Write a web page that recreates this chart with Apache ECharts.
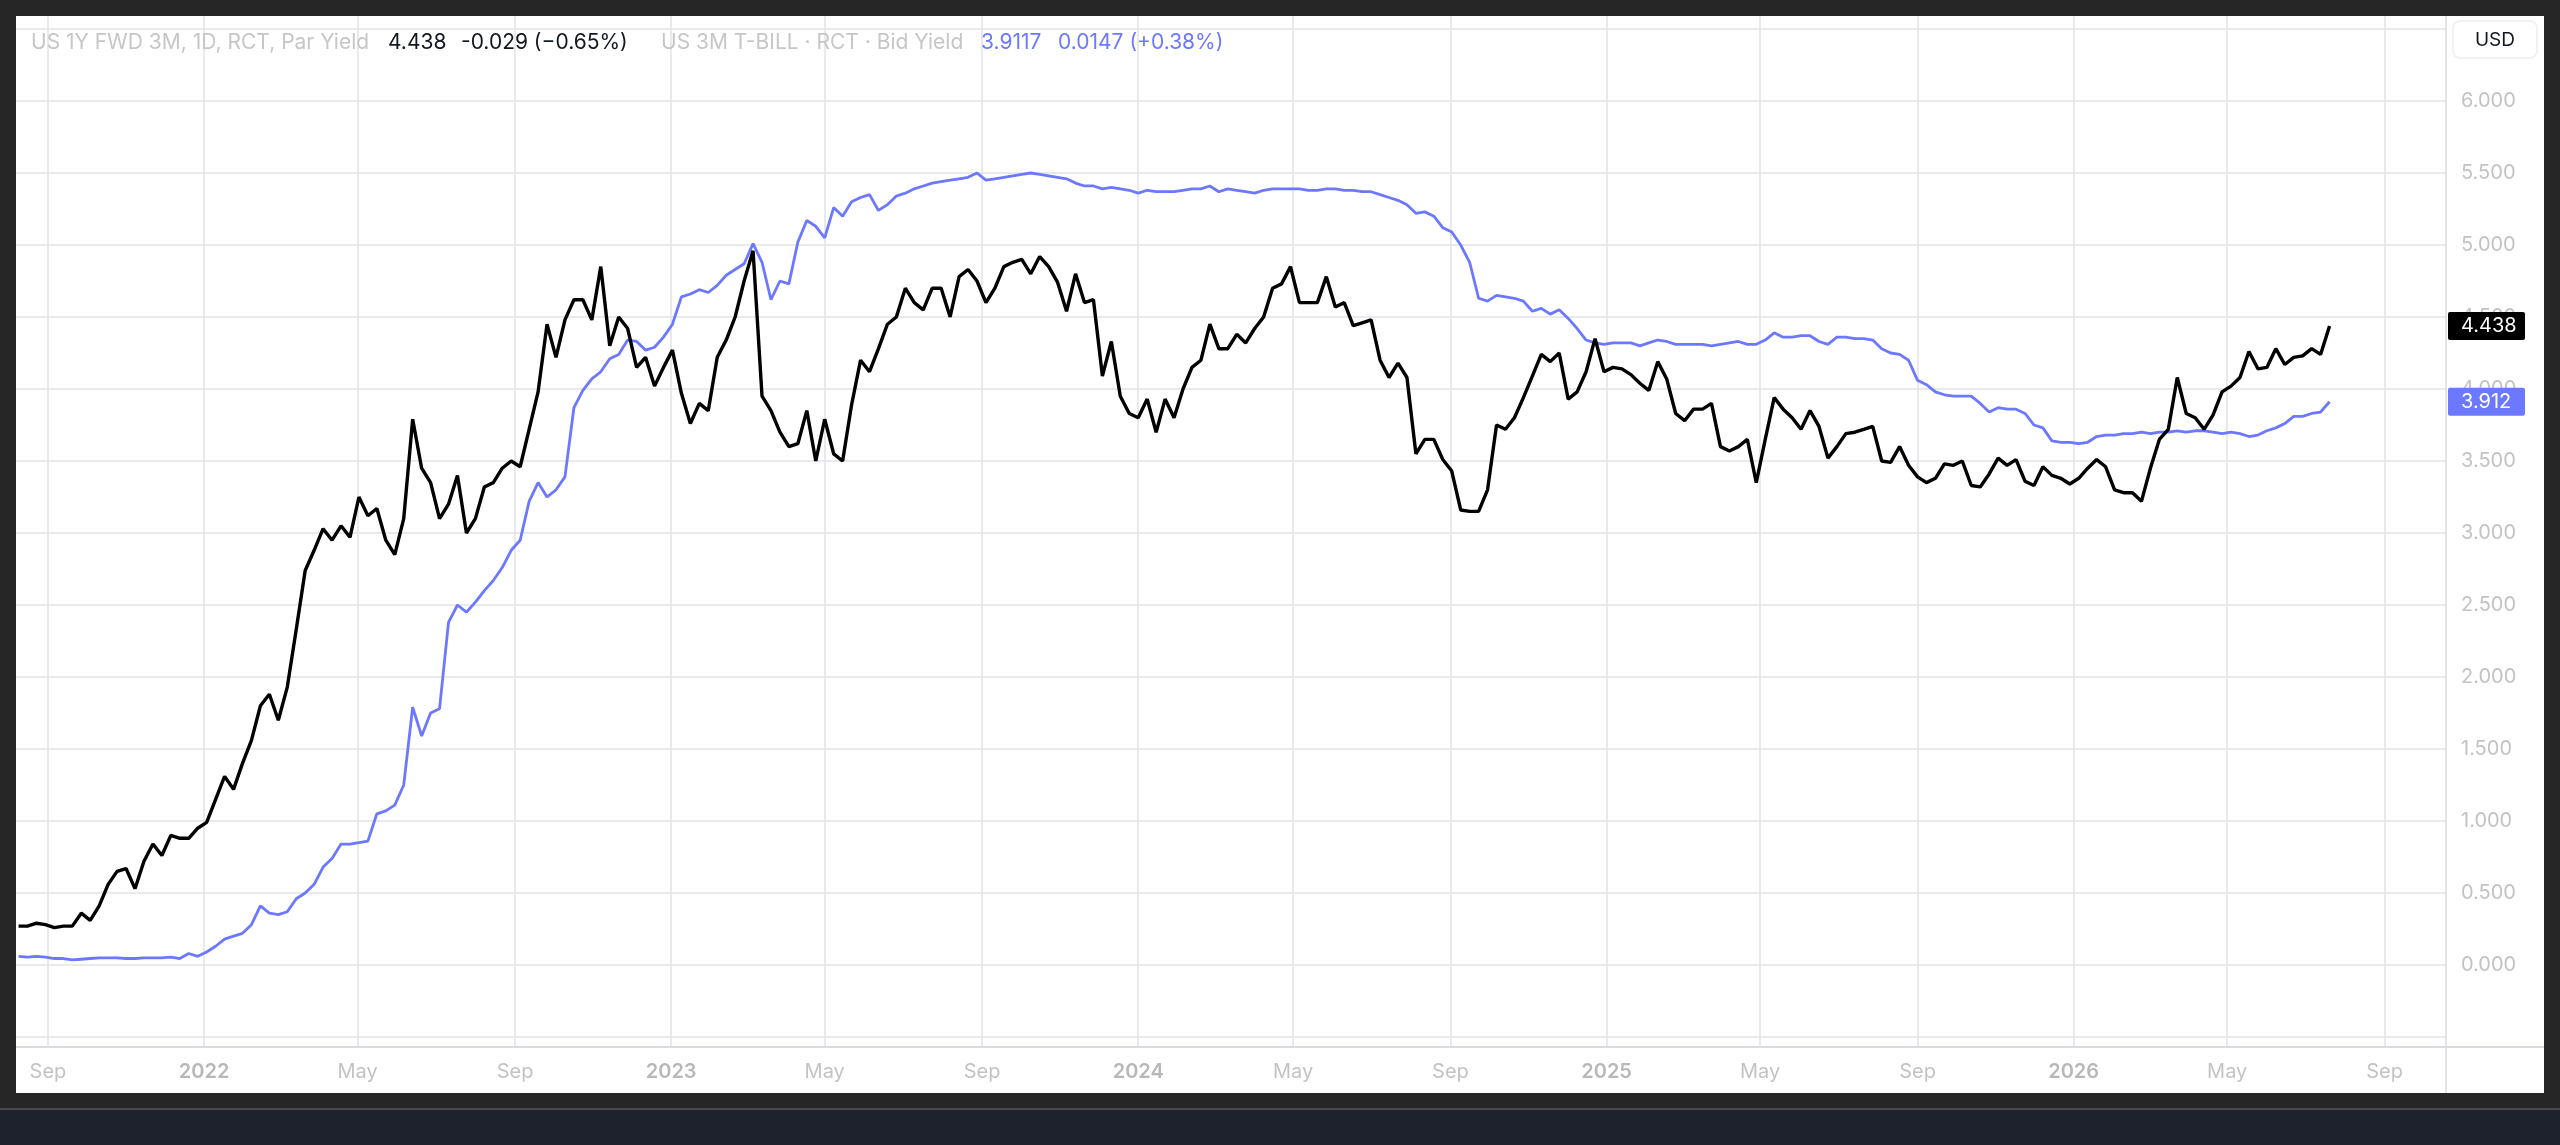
<!DOCTYPE html>
<html>
<head>
<meta charset="utf-8">
<script src="https://cdn.jsdelivr.net/npm/echarts@6/dist/echarts.min.js"></script>
<style>
html,body{margin:0;padding:0;background:#262626;overflow:hidden;}
#panel{position:absolute;left:16px;top:16px;width:2528px;height:1077px;background:#ffffff;}
#bandline{position:absolute;left:0;top:1108px;width:2560px;height:2px;background:#4a4a4a;}
#band{position:absolute;left:0;top:1110px;width:2560px;height:35px;background:#1e222d;}
#c{position:absolute;left:0;top:0;width:2560px;height:1145px;}
</style>
</head>
<body>
<div id="panel"></div>
<div id="bandline"></div>
<div id="band"></div>
<div id="c"></div>
<script>
// ---- data (weekly samples) ----
const startDate = '2021-08-09';
const stepDays = 7;

const fwdYield = [
 0.27,0.27,0.29,0.28,0.26,0.27,0.27,0.36,0.31,0.41,
 0.56,0.65,0.67,0.53,0.72,0.84,0.76,0.90,0.88,0.88,
 0.95,0.99,1.15,1.31,1.22,1.40,1.56,1.80,1.88,1.70,
 1.93,2.33,2.74,2.88,3.03,2.95,3.05,2.97,3.25,3.12,
 3.17,2.95,2.85,3.10,3.79,3.45,3.35,3.10,3.20,3.40,
 3.00,3.10,3.32,3.35,3.45,3.50,3.46,3.72,3.98,4.45,
 4.22,4.48,4.62,4.62,4.48,4.85,4.30,4.50,4.42,4.15,
 4.22,4.02,4.15,4.27,3.97,3.76,3.90,3.85,4.22,4.34,
 4.50,4.75,4.96,3.95,3.85,3.70,3.60,3.62,3.85,3.50,
 3.79,3.55,3.50,3.89,4.20,4.12,4.28,4.45,4.50,4.70,
 4.60,4.55,4.70,4.70,4.50,4.78,4.83,4.75,4.60,4.70,
 4.85,4.88,4.90,4.80,4.92,4.85,4.74,4.54,4.80,4.60,
 4.62,4.09,4.33,3.95,3.83,3.80,3.93,3.70,3.93,3.80,
 4.00,4.15,4.20,4.45,4.28,4.28,4.38,4.32,4.42,4.50,
 4.70,4.73,4.85,4.60,4.60,4.60,4.78,4.57,4.60,4.44,
 4.46,4.48,4.20,4.08,4.18,4.08,3.55,3.65,3.65,3.51,
 3.43,3.16,3.15,3.15,3.30,3.75,3.72,3.80,3.94,4.09,
 4.24,4.19,4.25,3.93,3.98,4.12,4.35,4.12,4.15,4.14,
 4.10,4.04,3.99,4.19,4.07,3.83,3.78,3.86,3.86,3.90,
 3.60,3.57,3.60,3.65,3.35,3.65,3.94,3.86,3.80,3.72,
 3.85,3.74,3.52,3.60,3.69,3.70,3.72,3.74,3.50,3.49,
 3.60,3.47,3.39,3.35,3.38,3.48,3.47,3.50,3.33,3.32,
 3.41,3.52,3.47,3.51,3.36,3.33,3.46,3.40,3.38,3.34,
 3.38,3.45,3.51,3.46,3.30,3.28,3.28,3.22,3.45,3.65,
 3.72,4.08,3.83,3.80,3.72,3.82,3.98,4.02,4.08,4.26,
 4.14,4.15,4.28,4.17,4.22,4.23,4.28,4.24,4.438
];

const billYield = [
 0.06,0.055,0.06,0.055,0.045,0.045,0.035,0.04,0.045,0.05,
 0.05,0.05,0.045,0.045,0.05,0.05,0.05,0.055,0.045,0.08,
 0.06,0.09,0.13,0.18,0.20,0.22,0.28,0.41,0.36,0.35,
 0.37,0.46,0.50,0.56,0.68,0.74,0.84,0.84,0.85,0.86,
 1.05,1.07,1.11,1.25,1.79,1.59,1.75,1.78,2.38,2.50,
 2.45,2.52,2.60,2.67,2.76,2.88,2.95,3.22,3.35,3.25,
 3.30,3.39,3.87,3.99,4.07,4.12,4.21,4.24,4.34,4.33,
 4.27,4.29,4.36,4.45,4.64,4.66,4.69,4.67,4.72,4.79,
 4.83,4.87,5.01,4.88,4.62,4.75,4.73,5.02,5.17,5.13,
 5.05,5.26,5.20,5.30,5.33,5.35,5.24,5.28,5.34,5.36,
 5.39,5.41,5.43,5.44,5.45,5.46,5.47,5.50,5.45,5.46,
 5.47,5.48,5.49,5.50,5.49,5.48,5.47,5.46,5.43,5.41,
 5.41,5.39,5.40,5.39,5.38,5.36,5.38,5.37,5.37,5.37,
 5.38,5.39,5.39,5.41,5.37,5.39,5.38,5.37,5.36,5.38,
 5.39,5.39,5.39,5.39,5.38,5.38,5.39,5.39,5.38,5.38,
 5.37,5.37,5.35,5.33,5.31,5.28,5.22,5.23,5.20,5.12,
 5.09,5.00,4.88,4.63,4.61,4.65,4.64,4.63,4.61,4.54,
 4.56,4.52,4.55,4.49,4.42,4.34,4.32,4.31,4.32,4.32,
 4.32,4.30,4.32,4.34,4.33,4.31,4.31,4.31,4.31,4.30,
 4.31,4.32,4.33,4.31,4.31,4.34,4.39,4.36,4.36,4.37,
 4.37,4.33,4.31,4.36,4.36,4.35,4.35,4.34,4.28,4.25,
 4.24,4.20,4.06,4.03,3.98,3.96,3.95,3.95,3.95,3.90,
 3.84,3.87,3.86,3.86,3.83,3.75,3.73,3.64,3.63,3.63,
 3.62,3.63,3.67,3.68,3.68,3.69,3.69,3.70,3.69,3.70,
 3.70,3.71,3.70,3.71,3.71,3.70,3.69,3.70,3.69,3.67,
 3.68,3.71,3.73,3.76,3.81,3.81,3.83,3.84,3.9117
];

const xTicks = ['2021-09-01','2022-01-01','2022-05-01','2022-09-01','2023-01-01','2023-05-01',
  '2023-09-01','2024-01-01','2024-05-01','2024-09-01','2025-01-01','2025-05-01',
  '2025-09-01','2026-01-01','2026-05-01','2026-09-01'];
const xMin = '2021-08-07';
const xMax = '2026-10-19';
const yMin = -0.5, yMax = 6.5, yStep = 0.5;
const yLabelMin = 0, yLabelMax = 6;

const fwdName = 'US 1Y FWD 3M, 1D, RCT, Par Yield';
const fwdChange = '-0.029 (\u22120.65%)';
const billName = 'US 3M T-BILL \u00b7 RCT \u00b7 Bid Yield';
const billChange = '0.0147 (+0.38%)';
const currency = 'USD';
const monthNames = ['Jan','Feb','Mar','Apr','May','Jun','Jul','Aug','Sep','Oct','Nov','Dec'];

// ---- build ----
const BLACK = '#000000', BLUE = '#6b78ff';
const GRID_C = '#e1e3e8', LABEL_C = '#c3c3c3', FONT = 'Inter';
const ts = s => new Date(s + 'T00:00:00').getTime();
const t0 = ts(startDate);
const dates = fwdYield.map((_, i) => t0 + i * stepDays * 86400000);
const fwdData = fwdYield.map((v, i) => [dates[i], v]);
const billData = billYield.map((v, i) => [dates[i], v]);
const tickVals = xTicks.map(ts);
const xMinT = ts(xMin), xMaxT = ts(xMax);

const chart = echarts.init(document.getElementById('c'), null, {renderer: 'canvas'});
chart.setOption({
  backgroundColor: 'transparent',
  animation: false,
  grid: [
    {left: 16, right: 114, top: 29, bottom: 108},
    {left: 16, right: 114, top: 16, bottom: 98}
  ],
  xAxis: [
    {type: 'value', gridIndex: 0, min: xMinT, max: xMaxT, show: false},
    {type: 'value', gridIndex: 1, min: xMinT, max: xMaxT,
      axisLine: {show: false},
      axisTick: {show: false, customValues: tickVals},
      splitLine: {show: true, lineStyle: {color: GRID_C, width: 1.5}},
      axisLabel: {
        customValues: tickVals, margin: 15, color: LABEL_C, fontSize: 20, fontFamily: FONT,
        formatter: function (v) {
          const d = new Date(v);
          return d.getMonth() === 0 ? '{y|' + d.getFullYear() + '}' : monthNames[d.getMonth()];
        },
        rich: {y: {fontWeight: 600, color: '#b8b8b8', fontSize: 20, fontFamily: FONT}}
      }
    }
  ],
  yAxis: [
    {type: 'value', gridIndex: 0, position: 'right', min: yMin, max: yMax, interval: yStep,
      axisLine: {show: false}, axisTick: {show: false},
      splitLine: {show: true, lineStyle: {color: GRID_C, width: 1.5}},
      axisLabel: {margin: 15, color: LABEL_C, fontSize: 20, fontFamily: FONT,
        showMinLabel: true, showMaxLabel: true,
        formatter: v => (v < yLabelMin - 1e-9 || v > yLabelMax + 1e-9) ? '' : v.toFixed(3)}
    },
    {type: 'value', gridIndex: 1, min: 0, max: 1, show: false}
  ],
  series: [
    {name: billName, type: 'line', xAxisIndex: 0, yAxisIndex: 0, data: billData,
      showSymbol: false, symbol: 'none', lineStyle: {color: BLUE, width: 2.8}, z: 3},
    {name: fwdName, type: 'line', xAxisIndex: 0, yAxisIndex: 0, data: fwdData,
      showSymbol: false, symbol: 'none', lineStyle: {color: BLACK, width: 3.4}, z: 4},
    {type: 'line', xAxisIndex: 1, yAxisIndex: 1, data: [], silent: true}
  ]
});

// ---- overlays: legend, currency box, last-value tags ----
const lastF = fwdYield[fwdYield.length - 1];
const lastB = billYield[billYield.length - 1];
const lastDate = dates[dates.length - 1];
const yF = chart.convertToPixel({xAxisIndex: 0, yAxisIndex: 0}, [lastDate, lastF])[1];
const yB = chart.convertToPixel({xAxisIndex: 0, yAxisIndex: 0}, [lastDate, lastB])[1];
const plotRight = chart.convertToPixel({xAxisIndex: 0, yAxisIndex: 0}, [xMaxT, 0])[0];
const plotBottom = chart.getHeight() - 98;

function txt(x, y, s, fill, weight) {
  return {type: 'text', x: x, y: y, z: 100, silent: true,
    style: {text: s, fill: fill, font: (weight || 400) + ' 21px ' + FONT, verticalAlign: 'middle', align: 'left'}};
}
function tag(y, s, color) {
  return {type: 'group', z: 100, silent: true, children: [
    {type: 'rect', z: 100, shape: {x: plotRight + 2, y: y - 14, width: 77, height: 28, r: 2}, style: {fill: color}},
    {type: 'text', z: 101, x: plotRight + 15, y: y, style: {text: s, fill: '#ffffff', font: '400 20px ' + FONT, verticalAlign: 'middle', align: 'left'}}
  ]};
}

chart.setOption({
  graphic: [
    {type: 'line', z: 50, silent: true, shape: {x1: 16, y1: plotBottom, x2: 2544, y2: plotBottom}, style: {stroke: '#d9dbe0', lineWidth: 2}},
    {type: 'line', z: 50, silent: true, shape: {x1: plotRight, y1: 16, x2: plotRight, y2: 1093}, style: {stroke: '#d9dbe0', lineWidth: 1.5}},
    txt(31, 43, fwdName, '#c6c6c6'),
    txt(388, 43, lastF.toFixed(3), '#131722'),
    txt(461, 43, fwdChange, '#131722'),
    txt(661, 43, billName, '#c6c6c6'),
    txt(981, 43, lastB.toFixed(4), BLUE),
    txt(1058, 43, billChange, BLUE),
    {type: 'rect', z: 100, silent: true, shape: {x: 2453, y: 21, width: 84, height: 37, r: 7}, style: {fill: '#ffffff', stroke: '#eeeeee', lineWidth: 1.5}},
    {type: 'text', z: 101, silent: true, x: 2495, y: 40, style: {text: currency, fill: '#131722', font: '400 19px ' + FONT, align: 'center', verticalAlign: 'middle'}},
    tag(yF, lastF.toFixed(3), '#000000'),
    tag(yB, lastB.toFixed(3), BLUE)
  ]
});
</script>
</body>
</html>
